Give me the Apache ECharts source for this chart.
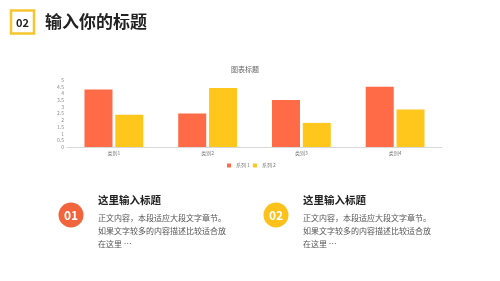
<!DOCTYPE html>
<html><head><meta charset="utf-8">
<script src="https://cdn.jsdelivr.net/npm/echarts@6/dist/echarts.min.js"></script>
<style>html,body{margin:0;padding:0;background:#fff}#c{width:500px;height:281px}</style>
</head><body><div id="c"></div>
<script>
const categories = ['类别1', '类别2', '类别3', '类别4'];
const series1 = [4.3, 2.5, 3.5, 4.5];
const series2 = [2.4, 4.4, 1.8, 2.8];
const seriesNames = ['系列 1', '系列 2'];
const yMin = 0, yMax = 5, yStep = 0.5;
const headerNum = '02';
const headerTitle = '输入你的标题';
const itemTitles = ['这里输入标题', '这里输入标题'];
const itemBody = ['正文内容，本段适应大段文字章节。', '如果文字较多的内容描述比较适合放', '在这里 …'];

const F = '"Noto Sans CJK SC", "Noto Sans", sans-serif';
const orange = '#FF6A47', yellow = '#FFC61B';
const chart = echarts.init(document.getElementById('c'));

function item(x, num, color, title) {
  return [
    {type:'circle', shape:{cx:x, cy:215, r:12.5}, style:{fill:color}},
    {type:'text', x:x, y:215, style:{text:num, fill:'#fff', font:'bold 12px ' + F, align:'center', verticalAlign:'middle'}},
    {type:'text', x:x+27, y:200, style:{text:title, fill:'#222', font:'bold 10.5px ' + F, verticalAlign:'middle'}},
    {type:'text', x:x+27, y:218, style:{text:itemBody[0], fill:'#555', font:'8px ' + F, verticalAlign:'middle'}},
    {type:'text', x:x+27, y:231, style:{text:itemBody[1], fill:'#555', font:'8px ' + F, verticalAlign:'middle'}},
    {type:'text', x:x+27, y:244, style:{text:itemBody[2], fill:'#555', font:'8px ' + F, verticalAlign:'middle'}}
  ];
}

chart.setOption({
  animation:false,
  textStyle:{fontFamily:F},
  title:{text:'图表标题', left:240, textAlign:'center', top:61, textStyle:{fontSize:7, fontWeight:'normal', color:'#666'}},
  legend:{data:seriesNames, left:222, top:158, itemWidth:4, itemHeight:4, itemGap:3, icon:'rect',
    textStyle:{fontSize:5, color:'#777'}},
  grid:{left:67, right:58, top:80, bottom:134},
  xAxis:{type:'category', data:categories, axisLine:{lineStyle:{color:'#d9d9d9'}}, axisTick:{show:false},
    axisLabel:{fontSize:5, color:'#777', margin:4}},
  yAxis:{type:'value', min:yMin, max:yMax, interval:yStep, splitLine:{show:false}, axisLine:{show:false}, axisTick:{show:false},
    axisLabel:{fontSize:5, color:'#888', margin:3}},
  series:[
    {name:seriesNames[0], type:'bar', data:series1, barWidth:28, barGap:'10%', itemStyle:{color:orange}},
    {name:seriesNames[1], type:'bar', data:series2, barWidth:28, itemStyle:{color:yellow}}
  ],
  graphic:[
    {type:'rect', shape:{x:11, y:10.5, width:23, height:23}, style:{fill:'#fff', stroke:'#F7C530', lineWidth:2.5}},
    {type:'text', x:22.5, y:22.5, style:{text:headerNum, fill:'#222', font:'bold 11px ' + F, align:'center', verticalAlign:'middle'}},
    {type:'text', x:45, y:22, style:{text:headerTitle, fill:'#222', font:'bold 17px ' + F, verticalAlign:'middle'}}
  ].concat(item(71, '01', '#F2643C', itemTitles[0]), item(276, '02', '#FCC21B', itemTitles[1]))
});
</script></body></html>
